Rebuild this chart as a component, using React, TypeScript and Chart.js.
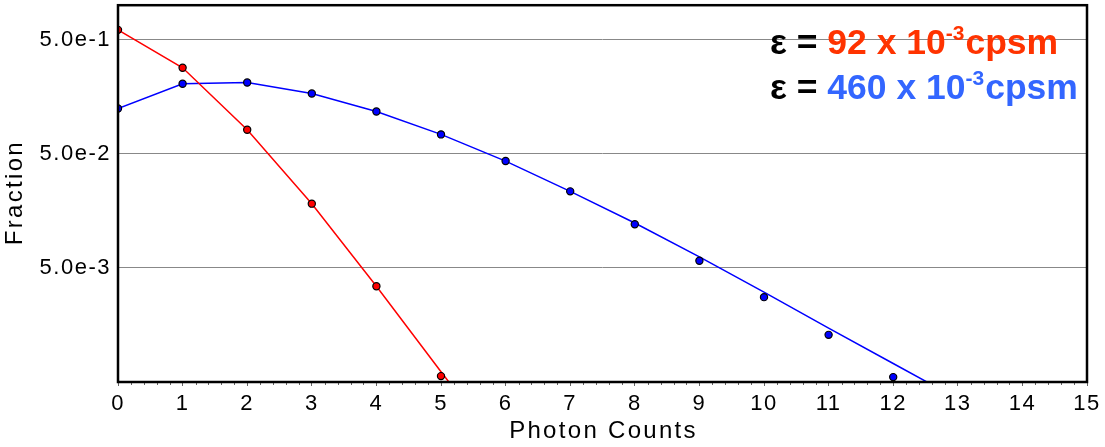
import { useEffect, useRef } from 'react';
import { Chart, registerables } from 'chart.js';

Chart.register(...registerables);

// Measured photon-count distributions (fraction of bins with k photons)
const redCounts = [0, 1, 2, 3, 4, 5];
const redFraction = [0.608, 0.283, 0.0811, 0.01825, 0.00345, 0.000563];
const redFitCounts = [0, 1, 2, 3, 4, 5, 5.5];
const redFitFraction = [0.608, 0.283, 0.0811, 0.01825, 0.00345, 0.000615, 0.000264];

const blueCounts = [0, 1, 2, 3, 4, 5, 6, 7, 8, 9, 10, 11, 12];
const blueFraction = [
  0.1245, 0.2048, 0.21, 0.1685, 0.117, 0.0738, 0.0431, 0.0234, 0.01204, 0.00577, 0.00277,
  0.001294, 0.000552,
];
const blueFitCounts = [0, 1, 2, 3, 4, 5, 6, 7, 8, 9, 10, 11, 12, 13];
const blueFitFraction = [
  0.1245, 0.2048, 0.21, 0.1685, 0.117, 0.0738, 0.0431, 0.0234, 0.01235, 0.00623, 0.00306,
  0.00148, 0.000726, 0.000356,
];

// Axis definitions
const xMin = 0;
const xMax = 15;
const xMinorStep = 0.2;
const yMin = 0.0005;
const yMax = 1;
const yTickValues = [0.5, 0.05, 0.005];
const xTitle = 'Photon Counts';
const yTitle = 'Fraction';

// Brightness annotations
const redText = ['92 x 10', '-3', 'cpsm'];
const blueText = ['460 x 10', '-3', 'cpsm'];

const RED = '#ff0000';
const BLUE = '#0000ff';
const RED_TEXT = 'rgb(255,51,0)';
const BLUE_TEXT = 'rgb(51,102,255)';
const FONT = '"Liberation Sans", Arial, sans-serif';
const TICK_SPACING = '1.5px';
const TITLE_SPACING = '2.3px';

const toXY = (xs: number[], ys: number[]) => xs.map((x, i) => ({ x, y: ys[i] }));

const spacingPlugin = {
  id: 'spacing',
  beforeUpdate(chart: any) {
    chart.ctx.letterSpacing = TICK_SPACING;
  },
  beforeDraw(chart: any) {
    chart.ctx.letterSpacing = TICK_SPACING;
  },
};

const framePlugin = {
  id: 'frame',
  afterDraw(chart: any) {
    const { ctx, chartArea } = chart;
    const xs = chart.scales.x;
    ctx.save();
    ctx.letterSpacing = '0px';
    // minor ticks below the bottom axis
    ctx.strokeStyle = '#666';
    ctx.lineWidth = 1;
    for (let v = xMin; v <= xMax + 1e-9; v += xMinorStep) {
      if (Math.abs(v - Math.round(v)) < 1e-6) continue;
      const px = Math.round(xs.getPixelForValue(v)) + 0.5;
      ctx.beginPath();
      ctx.moveTo(px, chartArea.bottom);
      ctx.lineTo(px, chartArea.bottom + 3);
      ctx.stroke();
    }
    // plot frame
    ctx.strokeStyle = '#000';
    ctx.lineWidth = 2.5;
    ctx.strokeRect(
      chartArea.left,
      chartArea.top,
      chartArea.right - chartArea.left,
      chartArea.bottom - chartArea.top
    );

    // axis titles
    ctx.letterSpacing = TITLE_SPACING;
    ctx.font = `24px ${FONT}`;
    ctx.fillStyle = '#000';
    ctx.textAlign = 'center';
    ctx.textBaseline = 'middle';
    ctx.fillText(xTitle, (chartArea.left + chartArea.right) / 2 + 1, 431);
    ctx.save();
    ctx.translate(15, (chartArea.top + chartArea.bottom) / 2);
    ctx.rotate(-Math.PI / 2);
    ctx.fillText(yTitle, 1, 0);
    ctx.restore();
    ctx.letterSpacing = '0px';

    const drawEps = (x: number, y: number, parts: string[], color: string) => {
      ctx.textAlign = 'left';
      ctx.textBaseline = 'alphabetic';
      ctx.font = `bold 35.5px ${FONT}`;
      ctx.fillStyle = '#000';
      const lead = '\u03b5 = ';
      ctx.fillText(lead, x, y);
      x += ctx.measureText(lead).width;
      ctx.fillStyle = color;
      ctx.fillText(parts[0], x, y);
      x += ctx.measureText(parts[0]).width;
      ctx.font = `bold 21px ${FONT}`;
      ctx.fillText(parts[1], x, y - 14);
      x += ctx.measureText(parts[1]).width + 1;
      ctx.font = `bold 35.5px ${FONT}`;
      ctx.fillText(parts[2], x, y);
    };
    drawEps(770, 54, redText, RED_TEXT);
    drawEps(770, 99, blueText, BLUE_TEXT);
    ctx.restore();
  },
};

export default function App() {
  const canvasRef = useRef<HTMLCanvasElement | null>(null);

  useEffect(() => {
    const canvas = canvasRef.current;
    if (!canvas) return;
    const pointStyle = (color: string) => ({
      showLine: false,
      pointRadius: 3.6,
      pointBorderWidth: 1.2,
      pointBorderColor: '#000',
      pointBackgroundColor: color,
      order: 0,
    });
    const lineStyle = (color: string) => ({
      showLine: true,
      borderColor: color,
      borderWidth: 1.5,
      pointRadius: 0,
      tension: 0,
      order: 1,
    });
    const chart = new Chart(canvas, {
      type: 'scatter',
      data: {
        datasets: [
          { label: 'red', data: toXY(redCounts, redFraction), ...pointStyle(RED) },
          { label: 'blue', data: toXY(blueCounts, blueFraction), ...pointStyle(BLUE) },
          { label: 'red fit', data: toXY(redFitCounts, redFitFraction), ...lineStyle(RED) },
          { label: 'blue fit', data: toXY(blueFitCounts, blueFitFraction), ...lineStyle(BLUE) },
        ],
      },
      options: {
        responsive: false,
        animation: false,
        layout: { padding: { left: 0, right: 18, top: 5, bottom: 0 } },
        plugins: {
          legend: { display: false },
          tooltip: { enabled: false },
        },
        scales: {
          x: {
            type: 'linear',
            min: xMin,
            max: xMax,
            border: { display: false },
            grid: {
              drawOnChartArea: false,
              drawTicks: true,
              tickLength: 4,
              tickColor: '#666',
              tickWidth: 1,
            },
            ticks: {
              stepSize: 1,
              autoSkip: false,
              maxRotation: 0,
              padding: 5,
              color: '#000',
              font: { family: FONT, size: 22 },
            },
            afterFit: (s: any) => {
              s.height = 65;
              s.paddingLeft = 0;
              s.paddingRight = 0;
            },
          },
          y: {
            type: 'logarithmic',
            min: yMin,
            max: yMax,
            border: { display: false },
            grid: {
              color: '#888',
              lineWidth: 1,
              drawTicks: false,
            },
            afterBuildTicks: (s: any) => {
              s.ticks = yTickValues.map((v) => ({ value: v }));
            },
            ticks: {
              autoSkip: false,
              padding: 7,
              color: '#000',
              font: { family: FONT, size: 22 },
              callback: (v: any) => Number(v).toExponential(1),
            },
            afterFit: (s: any) => {
              s.width = 118;
              s.paddingTop = 0;
              s.paddingBottom = 0;
            },
          },
        },
      },
      plugins: [spacingPlugin, framePlugin],
    });
    return () => chart.destroy();
  }, []);

  return (
    <div style={{ position: 'fixed', left: 0, top: 0, width: 1105, height: 447, background: '#fff' }}>
      <canvas ref={canvasRef} width={1105} height={447} />
    </div>
  );
}
